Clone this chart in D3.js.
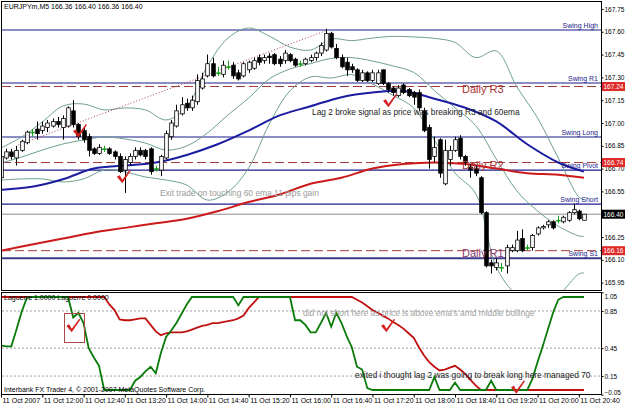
<!DOCTYPE html>
<html>
<head>
<meta charset="utf-8">
<script src="https://cdn.jsdelivr.net/npm/d3@7"></script>
<style>
  body { margin: 0; background: #fff; }
  svg { display: block; font-family: "Liberation Sans", Arial, sans-serif; }
</style>
</head>
<body>
<div id="chart"></div>
<script>
// EURJPYm M5, 11 Oct 2007 11:20 - 20:45, one row per 5 min bar
var opens = [166.64,166.77,166.81,166.77,166.82,166.87,166.94,166.96,166.95,166.97,166.98,167.01,166.97,166.98,167.08,166.99,166.95,166.91,166.83,166.80,
  166.83,166.83,166.81,166.78,166.69,166.74,166.78,166.82,166.82,166.83,166.70,166.69,166.77,166.91,166.98,167.06,167.13,167.10,167.14,167.23,
  167.31,167.39,167.33,167.32,167.37,167.38,167.33,167.31,167.35,167.36,167.43,167.41,167.44,167.45,167.42,167.41,167.45,167.42,167.39,167.39,
  167.41,167.43,167.46,167.48,167.59,167.49,167.43,167.40,167.37,167.35,167.28,167.33,167.28,167.26,167.35,167.26,167.23,167.18,167.25,167.22,
  167.20,167.20,167.08,166.97,166.78,166.89,166.60,166.76,166.82,166.90,166.78,166.71,166.70,166.64,166.41,166.08,166.05,166.05,166.06,166.16,
  166.16,166.24,166.18,166.18,166.27,166.31,166.33,166.35,166.36,166.35,166.36,166.41,166.42,166.36];
var highs = [166.82,166.83,166.83,166.85,166.89,166.95,166.96,167.01,167.01,167.02,167.03,167.04,167.05,167.11,167.15,167.00,166.97,166.93,166.84,166.86,
  166.85,166.84,166.82,166.80,166.78,166.80,166.84,166.84,166.83,166.84,166.72,166.79,166.95,167.02,167.12,167.17,167.16,167.18,167.32,167.33,
  167.45,167.43,167.37,167.41,167.41,167.40,167.35,167.40,167.41,167.43,167.45,167.45,167.46,167.46,167.44,167.48,167.46,167.43,167.41,167.43,
  167.45,167.47,167.53,167.62,167.60,167.52,167.45,167.43,167.39,167.36,167.35,167.34,167.35,167.35,167.35,167.27,167.24,167.25,167.26,167.23,
  167.21,167.22,167.10,166.99,166.91,166.90,166.89,166.85,166.91,166.92,166.79,166.73,166.72,166.65,166.42,166.10,166.11,166.08,166.20,166.20,
  166.29,166.30,166.20,166.27,166.32,166.33,166.36,166.36,166.39,166.39,166.42,166.47,166.43,166.40];
var lows = [166.61,166.76,166.76,166.72,166.81,166.86,166.91,166.89,166.93,166.94,166.97,166.97,166.89,166.97,166.97,166.89,166.87,166.78,166.79,166.79,
  166.81,166.79,166.76,166.67,166.54,166.72,166.76,166.78,166.76,166.66,166.68,166.65,166.76,166.89,166.97,167.05,167.08,167.08,167.12,167.22,
  167.30,167.30,167.31,167.30,167.35,167.29,167.28,167.30,167.33,167.35,167.38,167.39,167.39,167.38,167.37,167.39,167.40,167.37,167.37,167.38,
  167.40,167.41,167.44,167.47,167.49,167.42,167.36,167.31,167.33,167.27,167.27,167.27,167.27,167.25,167.25,167.20,167.18,167.17,167.19,167.17,
  167.12,167.08,166.94,166.70,166.74,166.64,166.59,166.72,166.81,166.76,166.72,166.64,166.65,166.40,166.05,166.01,166.03,166.02,166.01,166.15,
  166.15,166.15,166.16,166.16,166.26,166.30,166.31,166.30,166.34,166.34,166.35,166.40,166.36,166.36];
var closes = [166.78,166.81,166.78,166.82,166.88,166.94,166.94,166.93,166.98,167.00,167.01,166.99,167.03,167.10,166.99,166.91,166.89,166.82,166.80,166.84,
  166.83,166.80,166.78,166.68,166.76,166.78,166.82,166.79,166.78,166.68,166.70,166.78,166.93,167.00,167.08,167.12,167.10,167.15,167.28,167.29,
  167.39,167.31,167.33,167.38,167.37,167.31,167.29,167.39,167.40,167.41,167.40,167.43,167.43,167.39,167.39,167.46,167.41,167.38,167.39,167.42,
  167.43,167.46,167.51,167.59,167.50,167.43,167.37,167.35,167.35,167.28,167.33,167.28,167.33,167.33,167.26,167.22,167.20,167.23,167.20,167.18,
  167.17,167.10,166.95,166.76,166.84,166.67,166.82,166.82,166.89,166.78,166.74,166.69,166.67,166.41,166.06,166.06,166.08,166.05,166.18,166.18,
  166.23,166.16,166.18,166.26,166.31,166.32,166.35,166.31,166.36,166.38,166.41,166.43,166.37,166.40];

// Bollinger bands read every 4 bars
var bandIdx = [0,4,8,12,16,20,24,28,32,36,40,44,48,52,56,60,64,68,72,76,80,84,88,92,96,100,104,108,112,113];
var upperBand = [166.836,166.908,167.007,167.112,167.125,167.086,167.099,167.086,167.020,167.105,167.375,167.559,167.625,167.572,167.500,167.480,
  167.553,167.542,167.559,167.570,167.566,167.557,167.530,167.430,167.474,167.237,167.033,166.770,166.513,166.493];
var middleBand = [166.737,166.776,166.822,166.862,166.888,166.908,166.895,166.868,166.822,166.849,166.934,167.053,167.164,167.290,167.355,167.391,
  167.425,167.430,167.408,167.375,167.333,167.213,167.100,166.983,166.763,166.553,166.421,166.322,166.257,166.254];
var lowerBand = [166.625,166.632,166.632,166.612,166.632,166.691,166.678,166.645,166.625,166.592,166.493,166.546,166.704,166.993,167.211,167.303,
  167.296,167.318,167.257,167.182,167.099,166.888,166.671,166.536,166.053,165.868,165.809,165.868,166.007,166.013];

// moving averages read every 6 bars
var emaIdx = [0,6,12,18,24,30,36,42,48,54,60,66,72,78,84,90,96,102,108,113];
var ema60 = [166.56,166.58,166.63,166.70,166.72,166.74,166.79,166.86,166.95,167.05,167.11,167.17,167.20,167.21,167.16,167.10,167.01,166.86,166.74,166.68];
var emaSlow = [166.16,166.20,166.24,166.28,166.31,166.34,166.37,166.42,166.48,166.53,166.60,166.64,166.70,166.73,166.74,166.73,166.70,166.67,166.66,166.64];

// Laguerre, one value per bar
var lagGreen = [0.48,0.47,0.47,0.65,0.84,0.99,1,1,1,1,1,1,1,1,0.78,0.83,0.72,0.45,0.35,0.26,
  0,0,0,0,0,0,0.1,0.14,0.2,0.25,0.18,0.4,0.57,0.64,0.72,0.82,0.92,1,1,1,
  1,1,1,1,1,1,0.91,1,1,1,1,1,1,1,1,1,1,0.75,0.75,0.7,
  0.62,0.62,0.72,0.83,0.68,0.83,0.72,0.58,0.46,0.25,0.22,0.02,0,0,0,0,0,0,0,0,
  0,0,0,0,0.14,0,0,0,0.08,0,0,0,0,0,0,0.1,0,0,0,0,
  0,0,0,0.12,0.3,0.47,0.65,0.83,0.97,1,1,1,1,1];
var lagRed = [1,1,1,1,1,1,1,1,1,1,1,1,1,1,1,1,1,1,1,1,
  1,0.92,0.86,0.76,0.75,0.75,0.76,0.77,0.77,0.7,0.63,0.59,0.61,0.62,0.62,0.62,0.63,0.65,0.67,0.69,
  0.7,0.72,0.72,0.73,0.74,0.75,0.77,0.8,0.88,0.94,1,1,1,1,1,1,1,1,1,1,
  1,1,1,1,1,1,1,1,1,0.97,0.94,0.9,0.86,0.83,0.8,0.77,0.73,0.7,0.66,0.61,
  0.56,0.46,0.37,0.3,0.25,0.21,0.22,0.24,0.26,0.22,0.17,0.11,0.05,0,0,0,0,0,0,0,
  0,0,0,0,0,0,0,0,0,0,0,0,0,0];

var swingNames = ['Swing High','Swing R1','Swing Long','Swing Pivot','Swing Short','Swing S1'];
var swingPrices = [167.612, 167.263, 166.908, 166.69, 166.466, 166.11];
var dailyNames = ['Daily R3','Daily R2','Daily R1'];
var dailyPrices = [167.24, 166.74, 166.16];
var lastPrice = 166.40;

var priceTicks = [167.75,167.60,167.45,167.30,167.15,167.00,166.85,166.70,166.55,166.40,166.25,166.10,165.95];
var lagTicks = [1.05, 0.85, 0.45, 0.15, -0.05];
var lagLevels = [0.85, 0.45, 0.15];
var timeIdx = [0,8,16,24,32,40,48,56,64,72,80,88,96,104,112];
var timeLabels = ['11 Oct 2007','11 Oct 12:00','11 Oct 12:40','11 Oct 13:20','11 Oct 14:00','11 Oct 14:40','11 Oct 15:20',
  '11 Oct 16:00','11 Oct 16:40','11 Oct 17:20','11 Oct 18:00','11 Oct 18:40','11 Oct 19:20','11 Oct 20:00','11 Oct 20:40'];

// hand drawn trend line (bar, price) and tick marks
var trendFrom = [3.3, 166.855], trendTo = [63.2, 167.61];
var checksMain = [[15.3, 166.94], [23.8, 166.64], [75.4, 167.14]];
var checksLag = [[14, 0.68], [75, 0.68], [100.2, 0.02]];

var W = 625, H = 407;
var plot = {left: 2, right: 601, top: 2, bottom: 290};
var pane = {top: 293, bottom: 394};

var x = d3.scaleLinear().domain([0, 113]).range([1, 584]);
var y = d3.scaleLinear().domain([165.95, 167.75]).range([282.6, 9.0]);
var yl = d3.scaleLinear().domain([0, 1]).range([390, 297]);

var svg = d3.select('#chart').append('svg')
  .attr('width', W).attr('height', H);

svg.append('rect').attr('width', W).attr('height', H).attr('fill', '#fff');

var defs = svg.append('defs');
defs.append('clipPath').attr('id', 'clipMain').append('rect')
  .attr('x', plot.left).attr('y', plot.top)
  .attr('width', plot.right - plot.left).attr('height', plot.bottom - plot.top);
defs.append('clipPath').attr('id', 'clipLag').append('rect')
  .attr('x', plot.left).attr('y', pane.top)
  .attr('width', plot.right - plot.left).attr('height', pane.bottom - pane.top);

// squeeze a note to the width it has in the screenshot
function fitText(g, x0, y0, width, str, size, col) {
  var t = g.append('text').attr('font-size', size).attr('fill', col).text(str);
  var w = t.node().getComputedTextLength();
  t.attr('transform', 'translate(' + x0 + ',' + y0 + ') scale(' + (width / w).toFixed(3) + ',1)');
  return t;
}

var main = svg.append('g').attr('clip-path', 'url(#clipMain)');

// daily pivots (dashed) and swing levels
main.selectAll('.daily').data(dailyPrices).enter().append('line')
  .attr('x1', plot.left).attr('x2', plot.right)
  .attr('y1', d => y(d)).attr('y2', d => y(d))
  .attr('stroke', '#a33a3a').attr('stroke-width', 1).attr('stroke-dasharray', '9,4');

main.append('line')
  .attr('x1', plot.left).attr('x2', plot.right)
  .attr('y1', y(lastPrice)).attr('y2', y(lastPrice))
  .attr('stroke', '#8c8c8c');

main.selectAll('.swing').data(swingPrices).enter().append('line')
  .attr('x1', plot.left).attr('x2', plot.right)
  .attr('y1', d => y(d)).attr('y2', d => y(d))
  .attr('stroke', (d, i) => i == 5 ? '#3a3a8c' : '#1c1c8c')
  .attr('stroke-width', (d, i) => i == 5 ? 2 : 1.2);

// bollinger
var bandLine = d3.line().x((d, i) => x(bandIdx[i])).y(d => y(d)).curve(d3.curveCatmullRom);
[upperBand, middleBand, lowerBand].forEach(function(b) {
  main.append('path').attr('d', bandLine(b))
    .attr('fill', 'none').attr('stroke', '#6f9f90').attr('stroke-width', 1);
});

var emaLine = d3.line().x((d, i) => x(emaIdx[i])).y(d => y(d)).curve(d3.curveCatmullRom);
main.append('path').attr('d', emaLine(emaSlow))
  .attr('fill', 'none').attr('stroke', '#cc1a1a').attr('stroke-width', 2);
main.append('path').attr('d', emaLine(ema60))
  .attr('fill', 'none').attr('stroke', '#1c1ca0').attr('stroke-width', 2);

main.append('line')
  .attr('x1', x(trendFrom[0])).attr('y1', y(trendFrom[1]))
  .attr('x2', x(trendTo[0])).attr('y2', y(trendTo[1]))
  .attr('stroke', '#b04040').attr('stroke-width', 1).attr('stroke-dasharray', '1,2');

// candles
var bars = d3.range(opens.length);
var bw = 3.6;
var cg = main.append('g');
cg.selectAll('.wick').data(bars).enter().append('line')
  .attr('x1', i => Math.round(x(i)) + 0.5).attr('x2', i => Math.round(x(i)) + 0.5)
  .attr('y1', i => y(highs[i])).attr('y2', i => y(lows[i]))
  .attr('stroke', i => opens[i] == closes[i] ? '#1aa01a' : '#000');
cg.selectAll('.body').data(bars).enter().append('rect')
  .attr('x', i => Math.round(x(i)) + 0.5 - bw / 2)
  .attr('y', i => y(Math.max(opens[i], closes[i])))
  .attr('width', bw)
  .attr('height', i => Math.max(0.8, Math.abs(y(opens[i]) - y(closes[i]))))
  .attr('fill', i => closes[i] > opens[i] ? '#fff' : (closes[i] < opens[i] ? '#000' : '#1aa01a'))
  .attr('stroke', i => opens[i] == closes[i] ? '#1aa01a' : '#000')
  .attr('stroke-width', 0.8);

// labels on the price pane
function swingLabel(name, p) {
  main.append('text').attr('x', 598).attr('y', y(p) - 2)
    .attr('text-anchor', 'end').attr('font-size', 7).attr('fill', '#1c1c8c')
    .text(name);
}
swingNames.forEach((n, i) => swingLabel(n, swingPrices[i]));

dailyNames.forEach(function(n, i) {
  main.append('text').attr('x', 462).attr('y', y(dailyPrices[i]) + 6)
    .attr('font-size', 11).attr('fill', i == 2 ? '#8a3a70' : '#a83232')
    .text(n);
});

fitText(main, 312, 115, 208, 'Lag 2 broke signal as price was breaking R3 and 60ema', 9, '#222');
fitText(main, 160, 196, 159, 'Exit trade on touching 60 ema 11 pips gain', 9, '#9a9a9a');

svg.append('text').attr('x', 4).attr('y', 9)
  .attr('font-size', 7).attr('fill', '#000')
  .text('EURJPYm,M5  166.36 166.40 166.36 166.40');

// check marks
function check(g, cx, cy) {
  g.append('path')
    .attr('transform', 'translate(' + cx + ',' + cy + ')')
    .attr('d', 'M-7,-1 L-4,-2.5 L-1.5,2 L6,-8 L7,-7 L-1.5,5.5 Z')
    .attr('fill', '#d42020');
}
checksMain.forEach(c => check(main, x(c[0]), y(c[1])));

// frames and price axis
svg.append('rect').attr('x', plot.left - 0.5).attr('y', plot.top - 0.5)
  .attr('width', plot.right - plot.left + 1).attr('height', plot.bottom - plot.top + 1)
  .attr('fill', 'none').attr('stroke', '#000');
svg.append('rect').attr('x', plot.left - 0.5).attr('y', pane.top - 0.5)
  .attr('width', plot.right - plot.left + 1).attr('height', pane.bottom - pane.top + 1)
  .attr('fill', 'none').attr('stroke', '#000');

var axisFont = '"Liberation Sans", Arial, sans-serif';
var yAxis = svg.append('g')
  .attr('transform', 'translate(' + (plot.right + 0.5) + ',0)')
  .call(d3.axisRight(y).tickValues(priceTicks).tickSize(2).tickPadding(1).tickFormat(d3.format('.2f')));
yAxis.select('.domain').remove();
yAxis.selectAll('text').attr('font-size', 6.5).attr('font-family', axisFont);

function priceBox(p, col) {
  svg.append('rect').attr('x', plot.right + 1).attr('y', y(p) - 4.5)
    .attr('width', 23).attr('height', 9).attr('fill', col);
  svg.append('text').attr('x', plot.right + 2.5).attr('y', y(p) + 2.3)
    .attr('font-size', 6.5).attr('fill', '#fff').text(p.toFixed(2));
}
dailyPrices.forEach(p => priceBox(p, '#e02a2a'));
priceBox(lastPrice, '#000');

// Laguerre pane
var lag = svg.append('g').attr('clip-path', 'url(#clipLag)');
lag.selectAll('.lvl').data(lagLevels).enter().append('line')
  .attr('x1', plot.left).attr('x2', plot.right)
  .attr('y1', d => yl(d)).attr('y2', d => yl(d))
  .attr('stroke', '#a0a0a0').attr('stroke-dasharray', '2,2');

var lagLine = d3.line().x((d, i) => x(i)).y(d => yl(d));
lag.append('path').attr('d', lagLine(lagRed))
  .attr('fill', 'none').attr('stroke', '#c01010').attr('stroke-width', 1.8);
lag.append('path').attr('d', lagLine(lagGreen))
  .attr('fill', 'none').attr('stroke', '#0a7a0a').attr('stroke-width', 1.8);

lag.append('rect').attr('x', 64.5).attr('y', 313.5).attr('width', 20).attr('height', 29)
  .attr('fill', 'none').attr('stroke', '#b04848');
checksLag.forEach(c => check(lag, x(c[0]), yl(c[1])));

fitText(lag, 303, 316, 232, "did not short here as price is above ema's amd middle bollinge", 9, '#a0a0a0');
fitText(lag, 355, 378, 236, 'exited i thought lag 2 was going to break long here managed 70', 9.5, '#222');
lag.append('text').attr('x', 4).attr('y', 300)
  .attr('font-size', 7).attr('fill', '#000')
  .text('Laguerre 1.0000  Laguerre 0.0000');
lag.append('text').attr('x', 4).attr('y', 392)
  .attr('font-size', 7).attr('fill', '#000')
  .text('Interbank FX Trader 4, \u00a9 2001-2007 MetaQuotes Software Corp.');

var lAxis = svg.append('g')
  .attr('transform', 'translate(' + (plot.right + 0.5) + ',0)')
  .call(d3.axisRight(yl).tickValues(lagTicks).tickSize(2).tickPadding(1).tickFormat(d3.format('.2f')));
lAxis.select('.domain').remove();
lAxis.selectAll('text').attr('font-size', 6.5).attr('font-family', axisFont)
  .attr('dy', d => d > 1 ? '0.9em' : (d < 0 ? '0em' : '0.32em'));

// time axis
var xAxis = svg.append('g')
  .attr('transform', 'translate(0,' + (pane.bottom + 0.5) + ')')
  .call(d3.axisBottom(x).tickValues(timeIdx).tickSize(3).tickFormat((d, i) => timeLabels[i]));
xAxis.select('.domain').remove();
xAxis.selectAll('text').attr('font-size', 7).attr('text-anchor', 'start')
  .attr('dx', 1).attr('y', 4).attr('font-family', axisFont);
</script>
</body>
</html>
